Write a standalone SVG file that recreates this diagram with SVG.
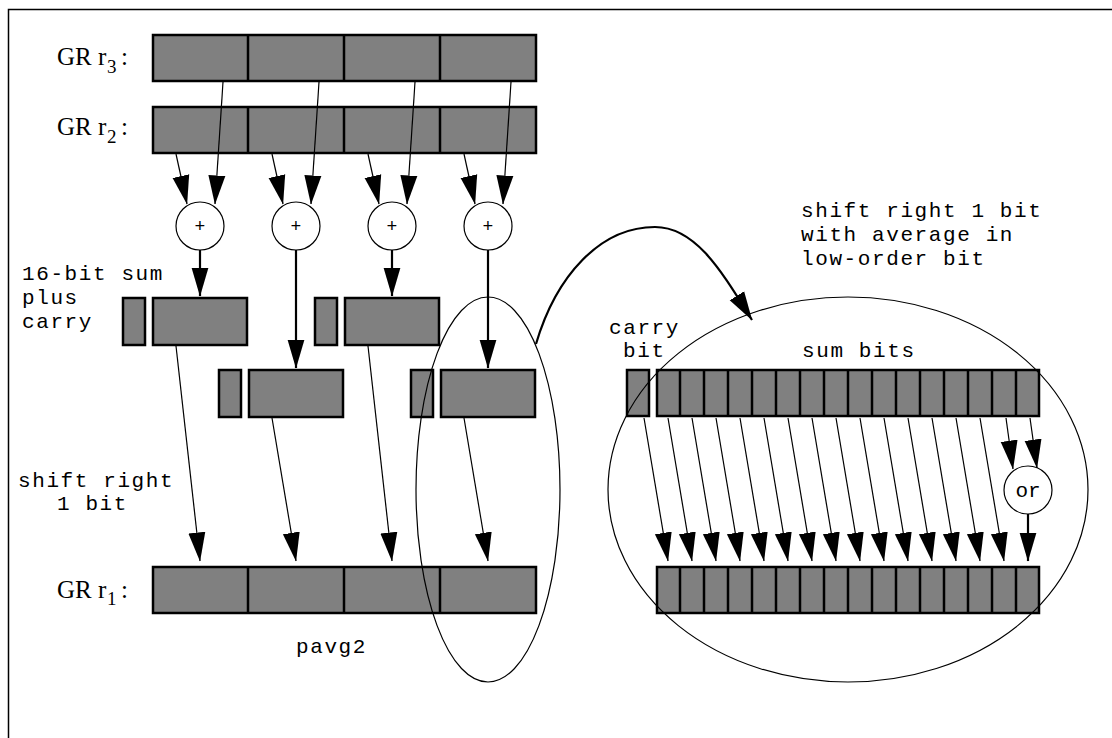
<svg xmlns="http://www.w3.org/2000/svg" width="1112" height="738" viewBox="0 0 1112 738">
<style>
.box{fill:#808080;stroke:#000;stroke-width:2.5}
.div{stroke:#000;stroke-width:2.5}
.thin{stroke:#000;stroke-width:1.2;fill:none}
.thick{stroke:#000;stroke-width:2.2;fill:none}
.circ{fill:#fff;stroke:#000;stroke-width:1.2}
.mono{font-family:"Liberation Mono",monospace;font-size:21px;letter-spacing:1.6px;fill:#000}
.serif{font-family:"Liberation Serif",serif;font-size:25px;fill:#000}
.sub{font-size:19px}
.op{font-family:"Liberation Mono",monospace;font-size:18px;fill:#000;text-anchor:middle}
</style>
<defs>
<marker id="ah" markerUnits="userSpaceOnUse" markerWidth="29" markerHeight="18" viewBox="0 0 29 18" refX="28.5" refY="9" orient="auto"><path d="M0,0.5 L29,9 L0,17.5 z" fill="#000"/></marker>
</defs>
<rect width="1112" height="738" fill="#fff"/>
<path d="M8.5,738 V9.5 H1112" fill="none" stroke="#000" stroke-width="1.5"/>

<g id="r3">
<text class="serif" y="65"><tspan x="57">GR</tspan><tspan x="98">r</tspan><tspan class="sub" x="107" dy="8">3</tspan><tspan x="121" dy="-8">:</tspan></text>
<rect class="box" x="153" y="35" width="383" height="46"/>
<path class="div" d="M248,35V81M344,35V81M440,35V81"/>
</g>
<g id="r2">
<text class="serif" y="135"><tspan x="57">GR</tspan><tspan x="98">r</tspan><tspan class="sub" x="107" dy="8">2</tspan><tspan x="121" dy="-8">:</tspan></text>
<rect class="box" x="153" y="107" width="383" height="46"/>
<path class="div" d="M248,107V153M344,107V153M440,107V153"/>
</g>
<g id="r1">
<text class="serif" y="598"><tspan x="57">GR</tspan><tspan x="98">r</tspan><tspan class="sub" x="107" dy="7">1</tspan><tspan x="121" dy="-7">:</tspan></text>
<rect class="box" x="153" y="567" width="383" height="46"/>
<path class="div" d="M248,567V613M344,567V613M440,567V613"/>
</g>

<g id="add1"><circle class="circ" cx="200" cy="226" r="24"/><text class="op" x="200" y="232">+</text></g>
<g id="add2"><circle class="circ" cx="296" cy="226" r="24"/><text class="op" x="296" y="232">+</text></g>
<g id="add3"><circle class="circ" cx="392" cy="226" r="24"/><text class="op" x="392" y="232">+</text></g>
<g id="add4"><circle class="circ" cx="488" cy="226" r="24"/><text class="op" x="488" y="232">+</text></g>

<g id="sum1"><rect class="box" x="123" y="298" width="22" height="47"/><rect class="box" x="153" y="298" width="94" height="47"/></g>
<g id="sum2"><rect class="box" x="219" y="370" width="22" height="47"/><rect class="box" x="249" y="370" width="94" height="47"/></g>
<g id="sum3"><rect class="box" x="315" y="298" width="22" height="47"/><rect class="box" x="345" y="298" width="94" height="47"/></g>
<g id="sum4"><rect class="box" x="411" y="370" width="22" height="47"/><rect class="box" x="441" y="370" width="94" height="47"/></g>

<g id="labels">
<text class="mono" x="22" y="280">16-bit sum</text>
<text class="mono" x="22" y="304">plus</text>
<text class="mono" x="22" y="328">carry</text>
<text class="mono" x="18" y="487">shift right</text>
<text class="mono" x="57" y="510">1 bit</text>
<text class="mono" x="296" y="653">pavg2</text>
<text class="mono" x="801" y="217">shift right 1 bit</text>
<text class="mono" x="801" y="241">with average in</text>
<text class="mono" x="801" y="265">low-order bit</text>
<text class="mono" x="609" y="334">carry</text>
<text class="mono" x="623" y="357">bit</text>
<text class="mono" x="802" y="357">sum bits</text>
</g>

<g id="carrybit"><rect class="box" x="627" y="370" width="22" height="46"/></g>
<g id="sumbits">
<rect class="box" x="657" y="370" width="382" height="46"/>
<path class="div" d="M680,370V416M704,370V416M728,370V416M752,370V416M776,370V416M800,370V416M824,370V416M848,370V416M872,370V416M896,370V416M920,370V416M944,370V416M968,370V416M992,370V416M1016,370V416"/>
</g>
<g id="resultbits">
<rect class="box" x="657" y="567" width="382" height="46"/>
<path class="div" d="M680,567V613M704,567V613M728,567V613M752,567V613M776,567V613M800,567V613M824,567V613M848,567V613M872,567V613M896,567V613M920,567V613M944,567V613M968,567V613M992,567V613M1016,567V613"/>
</g>
<g id="orgate"><circle class="circ" cx="1028" cy="490" r="24"/><text x="1028" y="497" text-anchor="middle" font-family="Liberation Mono, monospace" font-size="21">or</text></g>

<g id="connectors">
<path class="thin" d="M176,154L187,204" marker-end="url(#ah)"/>
<path class="thin" d="M223,82L215,204" marker-end="url(#ah)"/>
<path class="thin" d="M272,154L283,204" marker-end="url(#ah)"/>
<path class="thin" d="M319,82L311,204" marker-end="url(#ah)"/>
<path class="thin" d="M368,154L379,204" marker-end="url(#ah)"/>
<path class="thin" d="M415,82L407,204" marker-end="url(#ah)"/>
<path class="thin" d="M464,154L475,204" marker-end="url(#ah)"/>
<path class="thin" d="M511,82L503,204" marker-end="url(#ah)"/>
<path class="thick" d="M200,250V296" marker-end="url(#ah)"/>
<path class="thick" d="M296,250V368" marker-end="url(#ah)"/>
<path class="thick" d="M392,250V296" marker-end="url(#ah)"/>
<path class="thick" d="M488,250V368" marker-end="url(#ah)"/>
<path class="thin" d="M176,346L200,561" marker-end="url(#ah)"/>
<path class="thin" d="M272,418L296,561" marker-end="url(#ah)"/>
<path class="thin" d="M368,346L392,561" marker-end="url(#ah)"/>
<path class="thin" d="M464,418L488,561" marker-end="url(#ah)"/>
<path class="thick" d="M536,344C556,276 600,227 655,227C696,227 722,272 752,320" marker-end="url(#ah)"/>
<path class="thin" d="M644,418L668,561" marker-end="url(#ah)"/>
<path class="thin" d="M668,418L692,561" marker-end="url(#ah)"/>
<path class="thin" d="M692,418L716,561" marker-end="url(#ah)"/>
<path class="thin" d="M716,418L740,561" marker-end="url(#ah)"/>
<path class="thin" d="M740,418L764,561" marker-end="url(#ah)"/>
<path class="thin" d="M764,418L788,561" marker-end="url(#ah)"/>
<path class="thin" d="M788,418L812,561" marker-end="url(#ah)"/>
<path class="thin" d="M812,418L836,561" marker-end="url(#ah)"/>
<path class="thin" d="M836,418L860,561" marker-end="url(#ah)"/>
<path class="thin" d="M860,418L884,561" marker-end="url(#ah)"/>
<path class="thin" d="M884,418L908,561" marker-end="url(#ah)"/>
<path class="thin" d="M908,418L932,561" marker-end="url(#ah)"/>
<path class="thin" d="M932,418L956,561" marker-end="url(#ah)"/>
<path class="thin" d="M956,418L980,561" marker-end="url(#ah)"/>
<path class="thin" d="M980,418L1004,561" marker-end="url(#ah)"/>
<path class="thin" d="M1006,418L1013,469" marker-end="url(#ah)"/>
<path class="thin" d="M1030,418L1037,468" marker-end="url(#ah)"/>
<path class="thick" d="M1028,514V561" marker-end="url(#ah)"/>
</g>

<g id="highlights">
<ellipse class="thin" cx="488" cy="489.5" rx="72" ry="192.5"/>
<ellipse class="thin" cx="848" cy="489.5" rx="240" ry="192.5"/>
</g>
</svg>
